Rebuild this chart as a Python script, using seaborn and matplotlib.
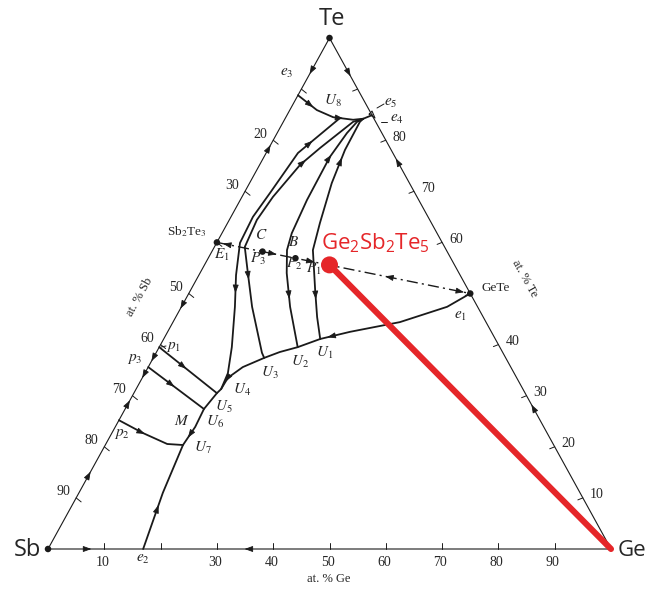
import matplotlib
matplotlib.use("Agg")
import matplotlib.pyplot as plt
import numpy as np
import seaborn as sns

# compositions are (at.% Ge, at.% Te); Sb is the rest
corner_ge = [0, 100, 0, 0]
corner_te = [0, 0, 100, 0]

sb2te3 = (0, 60)
gete = (50, 50)
gst = (22.2, 55.6)
pt_c = (9.0, 58.2)
pt_b = (15.5, 56.9)

u8_ge = [0, 4.8, 8.4, 12.2, 13.9, 15.1]
u8_te = [88.8, 85.9, 84.5, 84.0, 84.2, 84.9]
pocket_ge = [14.5, 14.7, 15.9, 14.5]
pocket_te = [85.1, 85.7, 84.35, 85.1]

fan_a_ge = [9.7, 5.65, 4.6, 3.9, 4.15, 6.6, 9.5, 12.9, 14.75, 15.1]
fan_a_te = [84.35, 77.5, 69.7, 65.0, 59.9, 53.6, 47.4, 39.5, 34.4, 31.3]
fan_b_ge = [13.9, 12.4, 9.1, 7.2, 5.5, 4.9, 5.4, 8.5, 12.55, 18.8, 19.7]
fan_b_te = [84.2, 83.6, 78.5, 75.2, 68.9, 64.4, 59.1, 54.0, 47.4, 38.4, 37.4]
fan_c_ge = [13.9, 13.1, 12.4, 11.7, 11.85, 12.4, 13.2, 15.4, 19.3, 24.6]
fan_c_te = [84.2, 83.6, 81.4, 76.7, 68.3, 61.8, 58.5, 54.0, 47.4, 39.5]
fan_d_ge = [13.9, 13.6, 13.7, 14.6, 16.4, 17.8, 22.1, 25.1, 27.8]
fan_d_te = [84.2, 83.6, 78.1, 71.6, 63.8, 58.5, 50.7, 45.4, 41.1]

valley_ge = [50, 47.2, 40.3, 32.4, 27.8, 24.6, 21.9, 19.7, 16.8, 15.2, 15.1,
             14.75, 14.0, 14.2, 13.8, 14.9, 16.9]
valley_te = [50, 47.4, 44.4, 42.5, 41.1, 39.5, 38.55, 37.4, 35.6, 33.5, 31.3,
             30.5, 27.4, 23.9, 20.35, 11.0, 0]

p1_ge = [0, 14.75]
p1_te = [39.5, 30.5]
p3_ge = [0, 14.0]
p3_te = [35.6, 27.4]
p2_ge = [0, 5.5, 10.9, 13.8]
p2_te = [25.2, 22.7, 20.55, 20.35]

tick_values = [10, 20, 30, 40, 50, 60, 70, 80, 90]
sb_labels = [20, 30, 50, 60, 70, 80, 90]
te_labels = [10, 20, 30, 40, 60, 70, 80]
ge_labels = [10, 30, 40, 50, 60, 70, 80, 90]

RED = "#e52629"

# pixel layout of the triangle (Sb corner at X0,Y0; px per at.%)
X0, Y0, SX, SY = 48, 549, 5.63, 5.11
W, H = 649, 592


def cart(ge, te):
    ge = np.atleast_1d(np.asarray(ge, float))
    te = np.atleast_1d(np.asarray(te, float))
    return ge + te / 2, te


sns.set_theme(style="white")
plt.rcParams["font.family"] = ["Liberation Serif", "DejaVu Serif"]
plt.rcParams["mathtext.rm"] = "Open Sans"

fig = plt.figure(figsize=(W / 100, H / 100), dpi=100)
ax = fig.add_axes([0, 0, 1, 1])
ax.set_xlim(-X0 / SX, (W - X0) / SX)
ax.set_ylim((Y0 - H) / SY, Y0 / SY)
ax.axis("off")


def curve(ge, te, lw=1.3, **kw):
    x, y = cart(ge, te)
    sns.lineplot(x=x, y=y, sort=False, estimator=None, color="k", lw=lw, ax=ax, **kw)


def arrow(ge, te, frac, back=False):
    x, y = cart(ge, te)
    px, py = x * SX, y * SY
    seg = np.hypot(np.diff(px), np.diff(py))
    cum = np.concatenate([[0], np.cumsum(seg)])
    s = frac * cum[-1]
    i = min(max(np.searchsorted(cum, s) - 1, 0), len(seg) - 1)
    t = (s - cum[i]) / seg[i]
    xm = x[i] + t * (x[i + 1] - x[i])
    ym = y[i] + t * (y[i + 1] - y[i])
    ux, uy = (px[i + 1] - px[i]) / seg[i], (py[i + 1] - py[i]) / seg[i]
    if back:
        ux, uy = -ux, -uy
    e = 1.5
    ax.annotate("", xy=(xm + ux * e / SX, ym + uy * e / SY),
                xytext=(xm - ux * e / SX, ym - uy * e / SY),
                arrowprops=dict(arrowstyle="-|>,head_length=0.55,head_width=0.2",
                                color="k", lw=0.6, shrinkA=0, shrinkB=0,
                                mutation_scale=9))


def put(px, py, s, size=10, **kw):
    kw.setdefault("math_fontfamily", "stix")
    ax.text((px - X0) / SX, (Y0 - py) / SY, s, ha=kw.pop("ha", "center"),
            va=kw.pop("va", "center"), fontsize=size, **kw)


def leader(x1, y1, x2, y2):
    ax.plot([(x1 - X0) / SX, (x2 - X0) / SX], [(Y0 - y1) / SY, (Y0 - y2) / SY],
            color="k", lw=0.7)


# triangle
curve(corner_ge, corner_te, lw=0.8)

# ticks and tick labels
for v in tick_values:
    x, y = cart(0, 100 - v)
    ax.plot([x[0], x[0] + 5 / SX], [y[0], y[0] - 4 / SY], color="k", lw=0.7)
    x, y = cart(100 - v, v)
    ax.plot([x[0], x[0] - 5 / SX], [y[0], y[0] - 2 / SY], color="k", lw=0.7)
    x, y = cart(v, 0)
    ax.plot([x[0], x[0]], [y[0], y[0] + 6 / SY], color="k", lw=0.7)
for v in sb_labels:
    x, y = cart(0, 100 - v)
    ax.annotate(str(v), (x[0], y[0]), xytext=(-13, 6), textcoords="offset pixels",
                ha="center", va="center", fontsize=10)
for v in te_labels:
    x, y = cart(100 - v, v)
    ax.annotate(str(v), (x[0], y[0]), xytext=(14, 3), textcoords="offset pixels",
                ha="center", va="center", fontsize=10)
for v in ge_labels:
    x, y = cart(v, 0)
    ax.annotate(str(v), (x[0], y[0]), xytext=(-2, -14), textcoords="offset pixels",
                ha="center", va="center", fontsize=10)

# edge arrows (left edge Sb-Te)
arrow([0, 0], [100, 60], 0.17)
arrow([0, 0], [60, 100], 0.47)
arrow([0, 0], [60, 39.5], 0.62)
arrow([0, 0], [39.5, 35.6], 0.64)
arrow([0, 0], [35.6, 25.2], 0.18)
arrow([0, 0], [25.2, 35.6], 0.35)
arrow([0, 0], [0, 25.2], 0.59)
# bottom edge Sb-Ge
arrow([0, 16.9], [0, 0], 0.44)
arrow([100, 16.9], [0, 0], 0.78)
# right edge Ge-Te
arrow([0, 15.1], [100, 84.9], 0.48)
arrow([50, 15.1], [50, 84.9], 0.75)
arrow([100, 50], [0, 50], 0.56)

# univariant curves
curve(u8_ge, u8_te)
curve(pocket_ge, pocket_te, lw=0.8)
curve(fan_a_ge, fan_a_te)
curve(fan_b_ge, fan_b_te)
curve(fan_c_ge, fan_c_te)
curve(fan_d_ge, fan_d_te)
curve(valley_ge, valley_te)
curve(p1_ge, p1_te)
curve(p3_ge, p3_te)
curve(p2_ge, p2_te)

arrow(u8_ge, u8_te, 0.22)
arrow(u8_ge, u8_te, 0.62)
arrow(fan_a_ge, fan_a_te, 0.12, back=True)
arrow(fan_a_ge, fan_a_te, 0.68)
arrow(fan_b_ge, fan_b_te, 0.25, back=True)
arrow(fan_b_ge, fan_b_te, 0.72)
arrow(fan_c_ge, fan_c_te, 0.2, back=True)
arrow(fan_c_ge, fan_c_te, 0.8)
arrow(fan_d_ge, fan_d_te, 0.2, back=True)
arrow(fan_d_ge, fan_d_te, 0.82)
arrow(valley_ge, valley_te, 0.33)
arrow(valley_ge, valley_te, 0.58)
arrow(valley_ge, valley_te, 0.73)
arrow(valley_ge, valley_te, 0.9, back=True)
arrow(p1_ge, p1_te, 0.45)
arrow(p3_ge, p3_te, 0.45)
arrow(p2_ge, p2_te, 0.4)

# Sb2Te3 - GeTe join
join_ge = [sb2te3[0], gete[0]]
join_te = [sb2te3[1], gete[1]]
x, y = cart(join_ge, join_te)
ax.plot(x, y, color="k", lw=1.0, linestyle=(0, (8, 3, 1.5, 3)))
arrow(join_ge, join_te, 0.03, back=True)
arrow(join_ge, join_te, 0.23)
arrow(join_ge, join_te, 0.38)
arrow(join_ge, join_te, 0.67, back=True)
arrow(join_ge, join_te, 0.97)

# black points
dots = [(0, 100), (0, 0), sb2te3, gete, pt_c, pt_b]
dx, dy = cart([d[0] for d in dots], [d[1] for d in dots])
sns.scatterplot(x=dx, y=dy, color="k", s=22, edgecolor="none", ax=ax, zorder=5)

# Ge2Sb2Te5 to Ge
x, y = cart([gst[0], 100], [gst[1], 0])
sns.lineplot(x=x, y=y, sort=False, estimator=None, color=RED, lw=4.4, ax=ax,
             solid_capstyle="round")
gx, gy = cart(gst[0], gst[1])
sns.scatterplot(x=gx, y=gy, color=RED, s=150, edgecolor="none", ax=ax, zorder=6)

# labels
put(332, 19, "Te", size=17, family="Open Sans")
put(27, 550, "Sb", size=17, family="Open Sans")
put(618, 551, "Ge", size=16, family="Open Sans", ha="left")
put(321, 249, r"Ge$_\mathrm{2}$Sb$_\mathrm{2}$Te$_\mathrm{5}$", size=16, family="Open Sans",
    color=RED, ha="left", va="baseline", math_fontfamily="custom")

put(187, 232, r"Sb$_\mathrm{2}$Te$_\mathrm{3}$", size=9.5)
put(496, 288, "GeTe", size=9.5)
put(329, 579, "at. % Ge", size=9)
put(140, 297, "at. % Sb", size=9, rotation=61)
put(525, 278, "at. % Te", size=9, rotation=-61)

for px_, py_, s in [
    (287, 73, r"$e_3$"), (333, 101, r"$U_8$"), (391, 103, r"$e_5$"), (397, 119, r"$e_4$"),
    (222, 255, r"$E_1$"), (261, 235, r"$C$"), (258, 259, r"$P_3$"), (294, 242, r"$B$"),
    (294, 264, r"$P_2$"), (314, 269, r"$P_1$"), (460, 316, r"$e_1$"), (325, 353, r"$U_1$"),
    (300, 362, r"$U_2$"), (270, 373, r"$U_3$"), (242, 390, r"$U_4$"), (224, 407, r"$U_5$"),
    (215, 422, r"$U_6$"), (203, 448, r"$U_7$"), (182, 421, r"$M$"), (174, 347, r"$p_1$"),
    (135, 359, r"$p_3$"), (122, 434, r"$p_2$"), (143, 559, r"$e_2$"),
]:
    put(px_, py_, s, size=11)

leader(377, 108, 384, 104)
leader(381, 122, 387, 122)
leader(161, 347, 166, 346)

fig.savefig("out.png", dpi=100)
